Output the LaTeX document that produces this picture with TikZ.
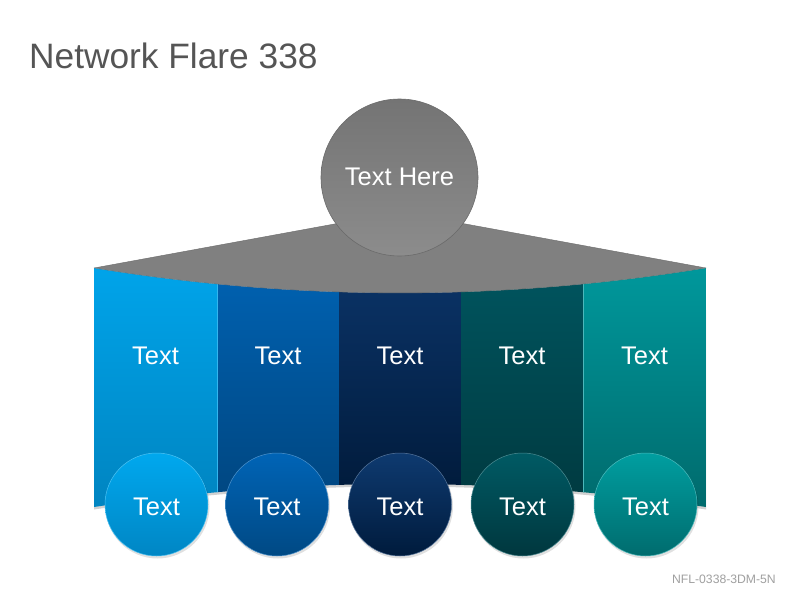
\documentclass[tikz,border=0pt]{standalone}
\usepackage{fontspec}
\setmainfont{Liberation Sans}
\definecolor{titlegray}{HTML}{555555}
\definecolor{footgray}{HTML}{A0A0A0}
\definecolor{topgray}{HTML}{808080}
\definecolor{topedge}{HTML}{6A6A6A}
\definecolor{hubtop}{HTML}{747474}
\definecolor{hubbot}{HTML}{8C8C8C}
\definecolor{cAt}{HTML}{00A4EA}\definecolor{cAb}{HTML}{0084C0}
\definecolor{cBt}{HTML}{0062B2}\definecolor{cBb}{HTML}{00457E}
\definecolor{cCt}{HTML}{0B3468}\definecolor{cCb}{HTML}{001938}
\definecolor{cDt}{HTML}{00555F}\definecolor{cDb}{HTML}{00393F}
\definecolor{cEt}{HTML}{00989C}\definecolor{cEb}{HTML}{006A6C}
\definecolor{dAt}{HTML}{00A8EE}\definecolor{dAb}{HTML}{0086C4}
\definecolor{dBt}{HTML}{0064B6}\definecolor{dBb}{HTML}{004984}
\definecolor{dCt}{HTML}{0E3A70}\definecolor{dCb}{HTML}{001B3C}
\definecolor{dDt}{HTML}{005A64}\definecolor{dDb}{HTML}{00373E}
\definecolor{dEt}{HTML}{009EA0}\definecolor{dEb}{HTML}{006C6E}
\tikzset{
  lbl/.style={text=white, font=\fontsize{25.5}{30}\selectfont, inner sep=0pt},
  hub/.style={circle, minimum size=157pt, inner sep=0pt, draw=topedge, line width=0.6pt,
    top color=hubtop, bottom color=hubbot},
  leaf/.style n args={2}{circle, minimum size=103pt, inner sep=0pt, draw=#1!70!white, line width=0.5pt,
    top color=#1, bottom color=#2},
  shad/.style={circle, minimum size=104pt, inner sep=0pt, fill=black, opacity=0.12}
}
\begin{document}
\begin{tikzpicture}[x=1pt,y=-1pt]
\useasboundingbox[fill=white] (0,0) rectangle (800,600);
\node[anchor=base west, text=titlegray, font=\fontsize{35.3}{42}\selectfont, inner sep=0pt] (title) at (29,68) {Network Flare 338};
\node[anchor=base east, text=footgray, font=\fontsize{12.2}{14}\selectfont, inner sep=0pt] (foot) at (776,583) {NFL-0338-3DM-5N};
% gray top plane
\fill[topgray] (94,268) -- (400,212) -- (706,268) .. controls (502,301.3) and (298,301.3) .. (94,268) -- cycle;
\draw[topedge, line width=0.4pt] (94,268) -- (400,212) -- (706,268);
% shadow under the band
\fill[black, opacity=0.18] (94,310) -- (706,310) -- (706,509.5) .. controls (502,478.8) and (298,478.8) .. (94,509.5) -- cycle;
% columns
\begin{scope}
\clip (94,268) .. controls (298,301.3) and (502,301.3) .. (706,268) -- (706,507) .. controls (502,476.3) and (298,476.3) .. (94,507) -- cycle;
\shade[top color=cAt, bottom color=cAb] (94,266) rectangle (217,510);
\shade[top color=cBt, bottom color=cBb] (217,266) rectangle (339,510);
\shade[top color=cCt, bottom color=cCb] (339,266) rectangle (461,510);
\shade[top color=cDt, bottom color=cDb] (461,266) rectangle (583,510);
\shade[top color=cEt, bottom color=cEb] (583,266) rectangle (706,510);
\draw[cAt!80!white, line width=0.5pt] (217,266) -- (217,510);
\draw[cEt!70!white, line width=0.5pt] (583,266) -- (583,510);
\end{scope}
\draw[topedge, line width=0.3pt] (94,268) .. controls (298,301.3) and (502,301.3) .. (706,268);
% column labels
\node[lbl] (t1) at (155.5,356) {Text};
\node[lbl] (t2) at (278,356) {Text};
\node[lbl] (t3) at (400,356) {Text};
\node[lbl] (t4) at (522,356) {Text};
\node[lbl] (t5) at (644.5,356) {Text};
% hub
\node[hub] (hub) at (399.5,177.5) {};
\node[lbl] (hubtext) at (399.5,177) {Text Here};
% leaf shadows
\node[shad] (s1) at (157.5,506.5) {};
\node[shad] (s2) at (278,506.5) {};
\node[shad] (s3) at (401,506.5) {};
\node[shad] (s4) at (523.5,506.5) {};
\node[shad] (s5) at (646.5,506.5) {};
% leaves
\node[leaf={dAt}{dAb}] (c1) at (156.5,504.5) {};
\node[leaf={dBt}{dBb}] (c2) at (277,504.5) {};
\node[leaf={dCt}{dCb}] (c3) at (400,504.5) {};
\node[leaf={dDt}{dDb}] (c4) at (522.5,504.5) {};
\node[leaf={dEt}{dEb}] (c5) at (645.5,504.5) {};
\node[lbl] (l1) at (156.5,507) {Text};
\node[lbl] (l2) at (277,507) {Text};
\node[lbl] (l3) at (400,507) {Text};
\node[lbl] (l4) at (522.5,507) {Text};
\node[lbl] (l5) at (645.5,507) {Text};
\end{tikzpicture}
\end{document}
